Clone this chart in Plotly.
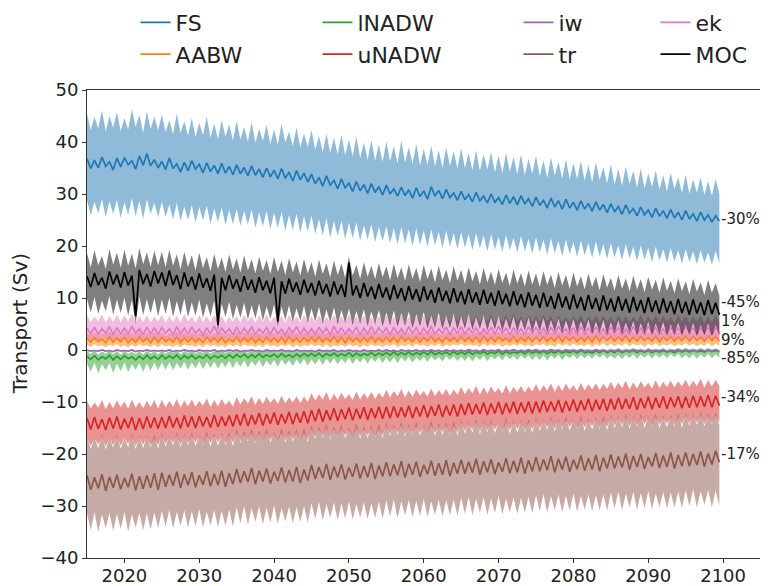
import plotly.graph_objects as go

# semi-annual time axis 2015.0 ... 2099.5
t = [2015.0 + 0.5 * i for i in range(170)]

fs = [36.8, 34.9, 36.5, 35.0, 37.1, 35.3, 36.2, 34.6, 36.9, 35.2, 37.0, 35.6, 36.4, 34.8, 37.3, 35.5, 37.8, 35.4, 36.6, 35.0,
      36.3, 34.7, 36.9, 34.9, 35.8, 34.2, 36.1, 34.5, 36.4, 34.8, 35.7, 34.1, 36.0, 34.3, 35.5, 33.9, 35.9, 34.0, 35.3, 33.7,
      35.6, 33.9, 35.1, 33.5, 35.4, 33.6, 34.8, 33.2, 35.0, 33.3, 34.6, 32.9, 34.9, 33.0, 34.2, 32.5, 34.5, 32.7, 34.0, 32.3,
      33.8, 32.0, 33.2, 31.5, 33.5, 31.7, 32.6, 31.0, 32.9, 31.2, 32.1, 30.5, 32.4, 30.6, 31.8, 30.1, 32.0, 30.3, 31.4, 29.8,
      31.7, 30.0, 31.0, 29.6, 31.3, 29.7, 30.8, 29.2, 31.2, 29.5, 30.6, 29.0, 31.4, 29.6, 30.7, 29.1, 30.9, 29.3, 30.2, 28.8,
      30.5, 28.9, 29.9, 28.5, 30.3, 28.7, 29.6, 28.3, 30.0, 28.4, 29.3, 28.0, 29.8, 28.2, 29.5, 27.9, 29.7, 28.1, 29.1, 27.6,
      29.4, 27.8, 28.8, 27.3, 29.2, 27.5, 28.7, 27.1, 29.0, 27.3, 28.4, 26.9, 28.7, 27.1, 28.2, 26.7, 28.5, 26.9, 28.0, 26.4,
      28.1, 26.6, 27.6, 26.1, 27.9, 26.3, 27.2, 25.8, 27.5, 26.0, 26.9, 25.5, 27.3, 25.7, 26.8, 25.3, 27.0, 25.4, 26.5, 25.0,
      26.8, 25.2, 26.2, 24.8, 26.5, 25.0, 26.0, 24.6, 25.8, 24.8]
fs_hi = [45.4, 42.3, 44.8, 42.6, 46.1, 42.0, 45.0, 42.8, 45.7, 42.1, 44.6, 42.4, 46.3, 42.9, 45.2, 41.8, 45.9, 42.5, 44.9, 42.2,
         45.3, 41.9, 44.2, 41.5, 45.5, 41.7, 44.0, 41.2, 44.6, 40.9, 43.7, 41.3, 44.9, 40.8, 43.5, 40.6, 44.2, 41.0, 43.4, 40.3,
         44.0, 40.5, 42.9, 40.1, 43.8, 39.8, 42.6, 40.2, 43.3, 39.6, 42.4, 39.5, 43.5, 39.9, 42.0, 39.2, 42.8, 38.9, 41.7, 39.0,
         42.3, 38.5, 41.2, 38.1, 41.6, 37.9, 40.8, 37.6, 41.4, 37.4, 40.5, 37.3, 41.0, 36.9, 39.9, 36.6, 40.4, 36.4, 39.5, 36.2,
         40.1, 36.3, 39.2, 35.9, 40.3, 36.0, 39.0, 35.7, 39.6, 35.5, 38.7, 35.6, 39.3, 35.3, 38.4, 35.0, 39.0, 35.4, 38.2, 34.9,
         38.8, 35.0, 37.9, 34.6, 38.4, 34.4, 37.6, 34.7, 38.1, 34.2, 37.4, 34.0, 37.9, 34.3, 37.1, 33.8, 37.6, 33.6, 36.8, 33.9,
         37.3, 33.4, 36.5, 33.1, 37.0, 33.5, 36.2, 33.0, 36.7, 32.8, 35.9, 32.9, 36.4, 32.6, 35.6, 32.3, 36.1, 32.7, 35.2, 32.0,
         35.7, 31.8, 34.8, 31.6, 35.3, 31.9, 34.4, 31.2, 34.9, 31.0, 34.0, 31.3, 34.5, 30.8, 33.6, 30.5, 34.1, 30.9, 33.2, 30.2,
         33.7, 30.0, 32.8, 30.3, 33.2, 29.8, 32.5, 29.6, 32.9, 30.0]
fs_lo = [28.8, 25.9, 28.5, 26.3, 29.1, 25.6, 28.6, 26.1, 28.9, 25.4, 28.4, 26.0, 29.2, 25.7, 28.7, 25.2, 29.0, 26.2, 28.3, 25.5,
         28.5, 25.6, 28.0, 25.1, 28.3, 24.8, 27.6, 25.0, 27.9, 24.5, 27.5, 24.9, 27.8, 24.3, 27.2, 24.6, 27.5, 24.0, 26.9, 24.2,
         27.2, 23.9, 26.8, 24.1, 27.0, 23.5, 26.5, 23.8, 26.8, 23.2, 26.4, 23.4, 26.6, 22.9, 26.0, 23.1, 26.2, 22.6, 25.7, 22.8,
         25.8, 22.3, 25.2, 22.0, 25.4, 21.6, 24.8, 21.9, 24.9, 21.3, 24.5, 21.5, 24.6, 21.0, 24.0, 21.2, 24.2, 20.7, 23.7, 20.9,
         23.8, 20.6, 23.4, 20.3, 23.7, 20.5, 23.2, 20.0, 23.4, 20.2, 23.0, 19.8, 23.2, 20.1, 22.8, 19.6, 23.0, 19.9, 22.5, 19.4,
         22.7, 19.7, 22.3, 19.2, 22.5, 19.5, 22.0, 19.0, 22.3, 19.3, 21.8, 18.9, 22.1, 19.2, 21.6, 18.7, 21.9, 19.0, 21.4, 18.5,
         21.7, 18.8, 21.2, 18.3, 21.5, 18.6, 21.0, 18.1, 21.3, 18.4, 20.8, 17.9, 21.1, 18.2, 20.6, 17.7, 20.9, 18.0, 20.4, 17.5,
         20.6, 17.8, 20.1, 17.3, 20.4, 17.6, 19.9, 17.1, 20.1, 17.4, 19.6, 16.9, 19.9, 17.2, 19.4, 16.8, 19.6, 17.0, 19.2, 16.6,
         19.4, 16.9, 19.0, 16.5, 19.2, 16.8, 18.8, 16.4, 19.0, 16.7]

aabw = [2.3, 1.5, 2.4, 1.6, 2.2, 1.4, 2.5, 1.5, 2.3, 1.6, 2.4, 1.4, 2.2, 1.5, 2.5, 1.6, 2.3, 1.4, 2.4, 1.5,
        2.4, 1.6, 2.2, 1.5, 2.5, 1.4, 2.3, 1.6, 2.4, 1.5, 2.2, 1.4, 2.5, 1.6, 2.3, 1.5, 2.4, 1.4, 2.2, 1.6,
        2.5, 1.5, 2.3, 1.6, 2.4, 1.4, 2.2, 1.5, 2.5, 1.6, 2.3, 1.5, 2.4, 1.4, 2.6, 1.6, 2.3, 1.5, 2.4, 1.6,
        2.4, 1.6, 2.5, 1.5, 2.3, 1.6, 2.6, 1.5, 2.4, 1.4, 2.5, 1.6, 2.3, 1.5, 2.4, 1.6, 2.6, 1.5, 2.3, 1.6,
        2.5, 1.6, 2.4, 1.5, 2.6, 1.7, 2.3, 1.6, 2.5, 1.5, 2.4, 1.7, 2.6, 1.6, 2.3, 1.5, 2.5, 1.7, 2.4, 1.6,
        2.6, 1.7, 2.4, 1.6, 2.5, 1.5, 2.7, 1.7, 2.4, 1.6, 2.5, 1.7, 2.3, 1.6, 2.6, 1.5, 2.4, 1.7, 2.5, 1.6,
        2.5, 1.7, 2.6, 1.6, 2.4, 1.7, 2.7, 1.6, 2.5, 1.8, 2.6, 1.6, 2.4, 1.7, 2.5, 1.6, 2.7, 1.7, 2.5, 1.8,
        2.6, 1.7, 2.5, 1.8, 2.7, 1.6, 2.5, 1.7, 2.6, 1.8, 2.4, 1.7, 2.7, 1.6, 2.5, 1.8, 2.6, 1.7, 2.5, 1.8,
        2.7, 1.7, 2.6, 1.8, 2.5, 1.7, 2.7, 1.8, 2.6, 1.7]
aabw_hi = [3.3, 2.8, 3.4, 2.7, 3.2, 2.9, 3.5, 2.8, 3.3, 2.7, 3.4, 2.9, 3.2, 2.8, 3.5, 2.7, 3.3, 2.9, 3.4, 2.8,
           3.4, 2.7, 3.2, 2.9, 3.5, 2.8, 3.3, 2.7, 3.4, 2.9, 3.2, 2.8, 3.5, 2.7, 3.3, 2.9, 3.4, 2.8, 3.2, 2.7,
           3.5, 2.8, 3.3, 2.9, 3.4, 2.7, 3.2, 2.8, 3.5, 2.9, 3.3, 2.7, 3.4, 2.8, 3.6, 2.9, 3.3, 2.8, 3.4, 2.9,
           3.4, 2.9, 3.5, 2.8, 3.3, 2.9, 3.6, 2.8, 3.4, 2.7, 3.5, 2.9, 3.3, 2.8, 3.4, 2.9, 3.6, 2.8, 3.3, 2.9,
           3.5, 2.9, 3.4, 2.8, 3.6, 3.0, 3.3, 2.9, 3.5, 2.8, 3.4, 3.0, 3.6, 2.9, 3.3, 2.8, 3.5, 3.0, 3.4, 2.9,
           3.6, 3.0, 3.4, 2.9, 3.5, 2.8, 3.7, 3.0, 3.4, 2.9, 3.5, 3.0, 3.3, 2.9, 3.6, 2.8, 3.4, 3.0, 3.5, 2.9,
           3.5, 3.0, 3.6, 2.9, 3.4, 3.0, 3.7, 2.9, 3.5, 3.1, 3.6, 2.9, 3.4, 3.0, 3.5, 2.9, 3.7, 3.0, 3.5, 3.1,
           3.6, 3.0, 3.5, 3.1, 3.7, 2.9, 3.5, 3.0, 3.6, 3.1, 3.4, 3.0, 3.7, 2.9, 3.5, 3.1, 3.6, 3.0, 3.5, 3.1,
           3.7, 3.0, 3.6, 3.1, 3.5, 3.0, 3.7, 3.1, 3.6, 3.0]
aabw_lo = [1.0, 0.6, 1.1, 0.7, 0.9, 0.5, 1.0, 0.7, 1.1, 0.6, 0.9, 0.5, 1.0, 0.6, 1.1, 0.7, 0.9, 0.6, 1.0, 0.5,
           1.1, 0.7, 0.9, 0.6, 1.0, 0.5, 1.1, 0.7, 0.9, 0.6, 1.0, 0.5, 1.1, 0.7, 1.0, 0.6, 0.9, 0.5, 1.1, 0.7,
           1.0, 0.6, 1.1, 0.7, 0.9, 0.6, 1.0, 0.5, 1.1, 0.7, 0.9, 0.6, 1.0, 0.7, 1.1, 0.5, 1.0, 0.6, 0.9, 0.7,
           1.1, 0.7, 1.0, 0.6, 1.1, 0.5, 0.9, 0.7, 1.0, 0.6, 1.1, 0.7, 0.9, 0.5, 1.0, 0.6, 1.1, 0.7, 1.0, 0.6,
           1.0, 0.7, 1.2, 0.6, 1.0, 0.7, 1.1, 0.6, 1.2, 0.8, 1.0, 0.6, 1.1, 0.7, 1.2, 0.6, 1.0, 0.7, 1.1, 0.8,
           1.2, 0.7, 1.1, 0.8, 1.0, 0.6, 1.2, 0.7, 1.1, 0.8, 1.2, 0.6, 1.0, 0.7, 1.1, 0.8, 1.2, 0.7, 1.0, 0.6,
           1.1, 0.8, 1.2, 0.7, 1.1, 0.6, 1.3, 0.8, 1.1, 0.7, 1.2, 0.8, 1.0, 0.7, 1.2, 0.6, 1.1, 0.8, 1.3, 0.7,
           1.2, 0.7, 1.1, 0.8, 1.3, 0.7, 1.2, 0.8, 1.1, 0.6, 1.2, 0.8, 1.3, 0.7, 1.1, 0.8, 1.2, 0.7, 1.1, 0.8,
           1.3, 0.8, 1.2, 0.7, 1.1, 0.8, 1.3, 0.7, 1.2, 0.8]

lnadw = [-1.2, -1.8, -1.1, -1.9, -1.3, -1.7, -1.0, -1.9, -1.2, -1.8, -1.1, -1.7, -1.3, -1.9, -1.2, -1.8, -1.0, -1.7, -1.2, -1.8,
         -1.0, -1.7, -1.1, -1.6, -0.9, -1.8, -1.1, -1.6, -1.0, -1.7, -1.2, -1.6, -0.9, -1.7, -1.1, -1.5, -1.0, -1.6, -0.9, -1.5,
         -0.9, -1.4, -0.8, -1.5, -0.9, -1.4, -0.7, -1.4, -0.9, -1.3, -0.8, -1.4, -0.7, -1.3, -0.9, -1.4, -0.8, -1.3, -0.7, -1.2,
         -0.7, -1.2, -0.6, -1.3, -0.7, -1.1, -0.6, -1.2, -0.7, -1.1, -0.5, -1.2, -0.6, -1.1, -0.7, -1.0, -0.5, -1.1, -0.6, -1.0,
         -0.5, -1.0, -0.4, -1.0, -0.5, -0.9, -0.4, -1.0, -0.5, -0.9, -0.4, -0.9, -0.3, -0.9, -0.5, -0.8, -0.4, -0.9, -0.3, -0.8,
         -0.4, -0.8, -0.3, -0.8, -0.4, -0.7, -0.3, -0.8, -0.4, -0.7, -0.2, -0.8, -0.3, -0.7, -0.4, -0.6, -0.3, -0.7, -0.2, -0.6,
         -0.3, -0.6, -0.2, -0.7, -0.3, -0.6, -0.2, -0.6, -0.3, -0.5, -0.2, -0.6, -0.1, -0.5, -0.3, -0.6, -0.2, -0.5, -0.1, -0.5,
         -0.2, -0.5, -0.1, -0.5, -0.2, -0.4, -0.1, -0.5, -0.2, -0.4, -0.1, -0.5, -0.2, -0.4, -0.1, -0.4, -0.2, -0.5, -0.1, -0.4,
         -0.1, -0.4, -0.1, -0.3, -0.2, -0.4, 0.0, -0.3, -0.1, -0.4]
lnadw_hi = [-0.2, -0.8, -0.1, -0.9, -0.3, -0.7, -0.1, -0.8, -0.2, -0.9, -0.1, -0.7, -0.3, -0.8, -0.2, -0.9, -0.1, -0.7, -0.2, -0.8,
            -0.1, -0.7, -0.2, -0.6, -0.1, -0.8, -0.2, -0.6, -0.1, -0.7, -0.2, -0.6, -0.1, -0.7, -0.2, -0.5, -0.1, -0.6, -0.1, -0.5,
            0.0, -0.5, -0.1, -0.6, 0.0, -0.5, -0.1, -0.5, 0.0, -0.4, -0.1, -0.5, 0.0, -0.4, -0.1, -0.5, 0.0, -0.4, 0.0, -0.4,
            0.1, -0.3, 0.0, -0.4, 0.1, -0.3, 0.0, -0.4, 0.1, -0.3, 0.0, -0.3, 0.1, -0.3, 0.0, -0.2, 0.1, -0.3, 0.0, -0.2,
            0.1, -0.2, 0.2, -0.2, 0.1, -0.1, 0.2, -0.2, 0.1, -0.1, 0.2, -0.1, 0.1, -0.2, 0.2, -0.1, 0.1, -0.1, 0.2, -0.1,
            0.2, -0.1, 0.3, 0.0, 0.2, -0.1, 0.3, -0.1, 0.2, 0.0, 0.3, -0.1, 0.2, 0.0, 0.3, -0.1, 0.2, 0.0, 0.3, 0.0,
            0.3, 0.0, 0.2, 0.0, 0.3, 0.1, 0.3, 0.0, 0.2, 0.1, 0.3, 0.0, 0.3, 0.1, 0.2, 0.0, 0.3, 0.1, 0.3, 0.0,
            0.3, 0.1, 0.4, 0.0, 0.3, 0.1, 0.4, 0.1, 0.3, 0.0, 0.4, 0.1, 0.3, 0.1, 0.4, 0.0, 0.3, 0.1, 0.4, 0.1,
            0.4, 0.1, 0.3, 0.1, 0.4, 0.0, 0.4, 0.1, 0.3, 0.1]
lnadw_lo = [-2.6, -4.2, -2.4, -4.5, -2.7, -3.9, -2.5, -4.4, -2.6, -4.1, -2.4, -4.3, -2.7, -3.8, -2.5, -4.2, -2.6, -4.0, -2.4, -3.9,
            -2.4, -3.8, -2.3, -3.9, -2.5, -3.6, -2.3, -3.8, -2.4, -3.5, -2.2, -3.7, -2.3, -3.4, -2.2, -3.6, -2.3, -3.3, -2.1, -3.5,
            -2.1, -3.2, -2.0, -3.4, -2.1, -3.1, -1.9, -3.3, -2.0, -3.0, -1.9, -3.2, -1.8, -2.9, -1.9, -3.1, -1.8, -2.8, -1.7, -3.0,
            -1.8, -2.8, -1.7, -2.9, -1.7, -2.6, -1.6, -2.8, -1.7, -2.5, -1.5, -2.7, -1.6, -2.4, -1.5, -2.6, -1.5, -2.3, -1.4, -2.5,
            -1.5, -2.4, -1.4, -2.5, -1.4, -2.2, -1.3, -2.4, -1.4, -2.1, -1.3, -2.3, -1.2, -2.0, -1.3, -2.2, -1.2, -1.9, -1.2, -2.1,
            -1.3, -2.1, -1.2, -2.2, -1.2, -1.9, -1.1, -2.1, -1.2, -1.8, -1.1, -2.0, -1.0, -1.8, -1.1, -1.9, -1.0, -1.7, -1.0, -1.9,
            -1.1, -1.9, -1.0, -2.0, -1.0, -1.7, -0.9, -1.9, -1.0, -1.6, -0.9, -1.8, -0.9, -1.6, -0.9, -1.7, -0.8, -1.5, -0.8, -1.7,
            -1.0, -1.7, -0.9, -1.8, -0.9, -1.6, -0.8, -1.7, -0.9, -1.5, -0.8, -1.7, -0.8, -1.5, -0.8, -1.6, -0.7, -1.4, -0.7, -1.6,
            -0.9, -1.6, -0.8, -1.7, -0.8, -1.5, -0.7, -1.6, -0.8, -1.5]

unadw = [-13.1, -15.3, -12.9, -15.2, -13.3, -15.4, -13.0, -15.1, -12.8, -15.3, -13.2, -15.0, -12.9, -15.4, -13.1, -15.2, -12.8, -15.0, -13.0, -15.1,
         -12.9, -15.0, -12.7, -14.9, -13.0, -15.1, -12.6, -14.8, -12.8, -15.0, -12.7, -14.7, -12.9, -14.9, -12.5, -14.8, -12.8, -14.6, -12.6, -14.7,
         -12.4, -14.5, -12.2, -14.6, -12.5, -14.3, -12.1, -14.5, -12.3, -14.2, -12.0, -14.4, -12.3, -14.1, -11.9, -14.3, -12.1, -14.0, -11.8, -14.1,
         -11.6, -13.7, -11.3, -13.8, -11.6, -13.5, -11.2, -13.6, -11.4, -13.3, -11.1, -13.5, -11.3, -13.2, -11.0, -13.4, -11.2, -13.1, -10.9, -13.2,
         -10.9, -13.1, -10.8, -13.0, -11.0, -12.9, -10.7, -13.1, -10.9, -12.8, -10.6, -13.0, -10.8, -12.7, -10.5, -12.9, -10.7, -12.6, -10.5, -12.8,
         -10.4, -12.5, -10.2, -12.4, -10.4, -12.3, -10.1, -12.5, -10.3, -12.2, -10.0, -12.4, -10.2, -12.1, -9.9, -12.3, -10.1, -12.0, -9.9, -12.2,
         -9.9, -12.0, -9.7, -11.9, -9.9, -11.8, -9.6, -12.0, -9.8, -11.7, -9.5, -11.9, -9.7, -11.6, -9.4, -11.8, -9.6, -11.5, -9.4, -11.7,
         -9.4, -11.5, -9.2, -11.4, -9.4, -11.3, -9.1, -11.5, -9.3, -11.2, -9.0, -11.4, -9.2, -11.1, -8.9, -11.3, -9.1, -11.0, -8.9, -11.2,
         -9.0, -11.1, -8.8, -11.0, -8.9, -10.9, -8.7, -11.0, -8.8, -10.7]
unadw_hi = [-9.8, -11.3, -10.1, -11.1, -9.6, -11.4, -10.0, -11.2, -9.7, -11.0, -9.9, -11.3, -9.5, -11.1, -10.0, -11.2, -9.8, -11.0, -9.6, -11.3,
            -9.6, -11.0, -9.8, -10.9, -9.4, -11.1, -9.7, -10.8, -9.5, -10.9, -9.8, -10.7, -9.3, -11.0, -9.6, -10.8, -9.4, -10.6, -9.7, -10.9,
            -9.1, -10.5, -9.3, -10.3, -8.9, -10.6, -9.2, -10.4, -9.0, -10.2, -9.3, -10.4, -8.8, -10.3, -9.1, -10.1, -8.9, -10.2, -9.0, -10.0,
            -8.3, -9.7, -8.5, -9.5, -8.1, -9.8, -8.4, -9.6, -8.2, -9.4, -8.5, -9.6, -8.0, -9.5, -8.3, -9.3, -8.1, -9.4, -8.2, -9.2,
            -7.7, -9.1, -7.9, -8.9, -7.5, -9.2, -7.8, -9.0, -7.6, -8.8, -7.9, -9.0, -7.4, -8.9, -7.7, -8.7, -7.5, -8.8, -7.6, -8.6,
            -7.1, -8.5, -7.3, -8.3, -6.9, -8.6, -7.2, -8.4, -7.0, -8.2, -7.3, -8.4, -6.8, -8.3, -7.1, -8.1, -6.9, -8.2, -7.0, -8.0,
            -6.6, -8.0, -6.8, -7.8, -6.4, -8.1, -6.7, -7.9, -6.5, -7.7, -6.8, -7.9, -6.3, -7.8, -6.6, -7.6, -6.4, -7.7, -6.5, -7.5,
            -6.1, -7.5, -6.3, -7.3, -5.9, -7.6, -6.2, -7.4, -6.0, -7.2, -6.3, -7.4, -5.8, -7.3, -6.1, -7.1, -5.9, -7.2, -6.0, -7.0,
            -5.7, -7.1, -5.9, -6.9, -5.6, -7.2, -5.8, -7.0, -5.7, -6.9]
unadw_lo = [-16.7, -18.5, -16.9, -18.2, -16.6, -18.6, -16.8, -18.3, -16.7, -18.4, -16.9, -18.1, -16.6, -18.5, -16.8, -18.2, -16.7, -18.4, -16.9, -18.3,
            -16.4, -18.1, -16.6, -17.9, -16.3, -18.2, -16.5, -18.0, -16.4, -17.8, -16.6, -18.1, -16.3, -17.9, -16.5, -17.7, -16.3, -18.0, -16.4, -17.8,
            -15.9, -17.6, -16.1, -17.4, -15.8, -17.7, -16.0, -17.5, -15.9, -17.3, -16.1, -17.6, -15.8, -17.4, -16.0, -17.2, -15.8, -17.5, -15.9, -17.3,
            -15.1, -16.8, -15.3, -16.6, -15.0, -16.9, -15.2, -16.7, -15.1, -16.5, -15.3, -16.8, -15.0, -16.6, -15.2, -16.4, -15.0, -16.7, -15.1, -16.5,
            -14.5, -16.2, -14.7, -16.0, -14.4, -16.3, -14.6, -16.1, -14.5, -15.9, -14.7, -16.2, -14.4, -16.0, -14.6, -15.8, -14.4, -16.1, -14.5, -15.9,
            -13.9, -15.6, -14.1, -15.4, -13.8, -15.7, -14.0, -15.5, -13.9, -15.3, -14.1, -15.6, -13.8, -15.4, -14.0, -15.2, -13.8, -15.5, -13.9, -15.3,
            -13.4, -15.1, -13.6, -14.9, -13.3, -15.2, -13.5, -15.0, -13.4, -14.8, -13.6, -15.1, -13.3, -14.9, -13.5, -14.7, -13.3, -15.0, -13.4, -14.8,
            -12.9, -14.6, -13.1, -14.4, -12.8, -14.7, -13.0, -14.5, -12.9, -14.3, -13.1, -14.6, -12.8, -14.4, -13.0, -14.2, -12.8, -14.5, -12.9, -14.3,
            -12.5, -14.2, -12.7, -14.0, -12.4, -14.3, -12.6, -14.1, -12.5, -14.0]

iw = [0.0, -0.2, -0.1, -0.2, 0.0, -0.2, -0.1, -0.3, 0.0, -0.2, -0.1, -0.2, 0.0, -0.3, -0.1, -0.2, 0.0, -0.2, -0.1, -0.2,
      -0.1, -0.2, 0.0, -0.3, -0.1, -0.2, 0.0, -0.2, -0.1, -0.3, 0.0, -0.2, -0.1, -0.2, 0.0, -0.3, -0.1, -0.2, 0.0, -0.2,
      0.0, -0.3, -0.1, -0.2, 0.0, -0.2, -0.1, -0.3, 0.0, -0.2, -0.1, -0.2, 0.0, -0.2, -0.1, -0.3, 0.0, -0.2, -0.1, -0.2,
      -0.1, -0.3, 0.0, -0.2, -0.1, -0.2, 0.0, -0.3, -0.1, -0.2, 0.0, -0.2, -0.1, -0.3, 0.0, -0.2, -0.1, -0.2, 0.0, -0.3,
      0.0, -0.2, -0.1, -0.3, 0.0, -0.2, -0.1, -0.2, 0.0, -0.3, -0.1, -0.2, 0.0, -0.2, -0.1, -0.3, 0.0, -0.2, -0.1, -0.2,
      -0.1, -0.2, 0.0, -0.2, -0.1, -0.3, 0.0, -0.2, -0.1, -0.2, 0.0, -0.3, -0.1, -0.2, 0.0, -0.2, -0.1, -0.3, 0.0, -0.2,
      0.0, -0.3, -0.1, -0.2, 0.0, -0.2, -0.1, -0.3, 0.0, -0.2, -0.1, -0.2, 0.0, -0.3, -0.1, -0.2, 0.0, -0.2, -0.1, -0.3,
      -0.1, -0.2, 0.0, -0.3, -0.1, -0.2, 0.0, -0.2, -0.1, -0.3, 0.0, -0.2, -0.1, -0.2, 0.0, -0.3, -0.1, -0.2, 0.0, -0.2,
      0.0, -0.2, -0.1, -0.3, 0.0, -0.2, -0.1, -0.2, 0.0, -0.3]

tr = [-24.1, -26.9, -24.5, -26.6, -23.9, -27.1, -24.4, -26.5, -24.0, -26.8, -24.6, -26.4, -23.8, -27.0, -24.3, -26.7, -24.1, -26.5, -23.7, -26.9,
      -23.6, -26.3, -24.0, -26.1, -23.4, -26.5, -23.9, -26.0, -23.5, -26.4, -24.1, -25.9, -23.3, -26.2, -23.8, -26.0, -23.2, -26.3, -23.7, -25.8,
      -22.9, -25.6, -23.3, -25.4, -22.7, -25.8, -23.2, -25.3, -22.8, -25.7, -23.4, -25.2, -22.6, -25.5, -23.1, -25.3, -22.5, -25.6, -23.0, -25.1,
      -22.1, -24.8, -22.5, -24.6, -21.9, -25.0, -22.4, -24.5, -22.0, -24.9, -22.6, -24.4, -21.8, -24.7, -22.3, -24.5, -21.7, -24.8, -22.2, -24.3,
      -21.6, -24.3, -22.0, -24.1, -21.4, -24.5, -21.9, -24.0, -21.5, -24.4, -22.1, -23.9, -21.3, -24.2, -21.8, -24.0, -21.2, -24.3, -21.7, -23.8,
      -21.1, -23.8, -21.5, -23.6, -20.9, -24.0, -21.4, -23.5, -21.0, -23.9, -21.6, -23.4, -20.8, -23.7, -21.3, -23.5, -20.7, -23.8, -21.2, -23.3,
      -20.6, -23.3, -21.0, -23.1, -20.4, -23.5, -20.9, -23.0, -20.5, -23.4, -21.1, -22.9, -20.3, -23.2, -20.8, -23.0, -20.2, -23.3, -20.7, -22.8,
      -20.1, -22.8, -20.5, -22.6, -19.9, -23.0, -20.4, -22.5, -20.0, -22.9, -20.6, -22.4, -19.8, -22.7, -20.3, -22.5, -19.7, -22.8, -20.2, -22.3,
      -19.7, -22.3, -20.0, -22.1, -19.5, -22.4, -19.9, -22.0, -19.4, -21.6]
tr_hi = [-16.4, -19.1, -16.8, -18.9, -16.2, -19.2, -16.7, -18.8, -16.3, -19.0, -16.9, -18.7, -16.1, -19.1, -16.6, -18.9, -16.4, -18.8, -16.2, -19.0,
         -15.9, -18.6, -16.3, -18.4, -15.7, -18.7, -16.2, -18.3, -15.8, -18.5, -16.4, -18.2, -15.6, -18.6, -16.1, -18.4, -15.9, -18.3, -15.7, -18.5,
         -15.2, -17.9, -15.6, -17.7, -15.0, -18.0, -15.5, -17.6, -15.1, -17.8, -15.7, -17.5, -14.9, -17.9, -15.4, -17.7, -15.2, -17.6, -15.0, -17.8,
         -14.4, -17.1, -14.8, -16.9, -14.2, -17.2, -14.7, -16.8, -14.3, -17.0, -14.9, -16.7, -14.1, -17.1, -14.6, -16.9, -14.4, -16.8, -14.2, -17.0,
         -13.9, -16.6, -14.3, -16.4, -13.7, -16.7, -14.2, -16.3, -13.8, -16.5, -14.4, -16.2, -13.6, -16.6, -14.1, -16.4, -13.9, -16.3, -13.7, -16.5,
         -13.4, -16.1, -13.8, -15.9, -13.2, -16.2, -13.7, -15.8, -13.3, -16.0, -13.9, -15.7, -13.1, -16.1, -13.6, -15.9, -13.4, -15.8, -13.2, -16.0,
         -12.9, -15.6, -13.3, -15.4, -12.7, -15.7, -13.2, -15.3, -12.8, -15.5, -13.4, -15.2, -12.6, -15.6, -13.1, -15.4, -12.9, -15.3, -12.7, -15.5,
         -12.4, -15.1, -12.8, -14.9, -12.2, -15.2, -12.7, -14.8, -12.3, -15.0, -12.9, -14.7, -12.1, -15.1, -12.6, -14.9, -12.4, -14.8, -12.2, -15.0,
         -12.0, -14.6, -12.3, -14.4, -11.8, -14.7, -12.2, -14.3, -11.9, -14.5]
tr_lo = [-31.4, -34.6, -31.2, -35.0, -31.6, -34.3, -31.3, -34.8, -31.5, -34.4, -31.1, -34.9, -31.6, -34.2, -31.3, -34.7, -31.4, -34.5, -31.2, -34.3,
         -30.9, -34.0, -30.7, -34.3, -31.1, -33.8, -30.8, -34.2, -31.0, -33.9, -30.6, -34.1, -31.1, -33.7, -30.8, -34.0, -30.9, -33.8, -30.7, -33.9,
         -30.2, -33.3, -30.0, -33.6, -30.4, -33.1, -30.1, -33.5, -30.3, -33.2, -29.9, -33.4, -30.4, -33.0, -30.1, -33.3, -30.2, -33.1, -30.0, -33.2,
         -29.4, -32.5, -29.2, -32.8, -29.6, -32.3, -29.3, -32.7, -29.5, -32.4, -29.1, -32.6, -29.6, -32.2, -29.3, -32.5, -29.4, -32.3, -29.2, -32.4,
         -28.9, -32.0, -28.7, -32.3, -29.1, -31.8, -28.8, -32.2, -29.0, -31.9, -28.6, -32.1, -29.1, -31.7, -28.8, -32.0, -28.9, -31.8, -28.7, -31.9,
         -28.4, -31.5, -28.2, -31.8, -28.6, -31.3, -28.3, -31.7, -28.5, -31.4, -28.1, -31.6, -28.6, -31.2, -28.3, -31.5, -28.4, -31.3, -28.2, -31.4,
         -27.9, -31.0, -27.7, -31.3, -28.1, -30.8, -27.8, -31.2, -28.0, -30.9, -27.6, -31.1, -28.1, -30.7, -27.8, -31.0, -27.9, -30.8, -27.7, -30.9,
         -27.4, -30.5, -27.2, -30.8, -27.6, -30.3, -27.3, -30.7, -27.5, -30.4, -27.1, -30.6, -27.6, -30.2, -27.3, -30.5, -27.4, -30.3, -27.2, -30.4,
         -27.0, -30.0, -26.8, -30.3, -27.1, -29.8, -26.9, -30.2, -27.0, -29.9]

ek = [4.2, 3.1, 4.4, 3.0, 4.1, 3.2, 4.5, 2.9, 4.3, 3.1, 4.2, 3.0, 4.6, 3.2, 4.1, 2.9, 4.4, 3.1, 4.3, 3.0,
      4.3, 3.2, 4.1, 2.9, 4.5, 3.1, 4.2, 3.0, 4.4, 3.2, 4.0, 2.9, 4.3, 3.1, 4.6, 3.0, 4.2, 3.2, 4.1, 2.9,
      4.4, 3.0, 4.2, 3.1, 4.5, 2.9, 4.1, 3.2, 4.3, 3.0, 4.4, 3.1, 4.0, 2.9, 4.3, 3.2, 4.5, 3.0, 4.2, 3.1,
      4.1, 3.0, 4.4, 3.2, 4.2, 2.9, 4.6, 3.1, 4.3, 3.0, 4.1, 3.2, 4.4, 2.9, 4.2, 3.1, 4.5, 3.0, 4.3, 3.2,
      4.2, 2.9, 4.4, 3.1, 4.1, 3.0, 4.5, 3.2, 4.3, 2.9, 4.2, 3.1, 4.6, 3.0, 4.1, 3.2, 4.4, 2.9, 4.3, 3.1,
      4.5, 3.0, 4.2, 3.2, 4.3, 2.9, 4.1, 3.1, 4.4, 3.0, 4.6, 3.2, 4.2, 2.9, 4.3, 3.1, 4.1, 3.0, 4.5, 3.2,
      4.3, 3.1, 4.2, 2.9, 4.4, 3.0, 4.6, 3.2, 4.1, 3.1, 4.3, 2.9, 4.5, 3.0, 4.2, 3.2, 4.4, 3.1, 4.1, 2.9,
      4.4, 3.2, 4.3, 3.0, 4.1, 2.9, 4.5, 3.1, 4.2, 3.0, 4.6, 3.2, 4.3, 2.9, 4.1, 3.1, 4.4, 3.0, 4.2, 3.2,
      4.5, 3.1, 4.3, 3.0, 4.2, 3.2, 4.4, 2.9, 4.3, 3.1]
ek_hi = [6.7, 5.3, 6.4, 5.5, 6.9, 5.2, 6.5, 5.4, 6.8, 5.3, 6.6, 5.5, 7.0, 5.2, 6.5, 5.4, 6.7, 5.3, 6.4, 5.5,
         6.8, 5.2, 6.5, 5.4, 6.6, 5.3, 6.9, 5.5, 6.4, 5.2, 6.7, 5.4, 6.5, 5.3, 6.8, 5.5, 6.6, 5.2, 6.4, 5.4,
         6.6, 5.3, 6.8, 5.5, 6.5, 5.2, 6.7, 5.4, 6.9, 5.3, 6.4, 5.5, 6.6, 5.2, 6.8, 5.4, 6.5, 5.3, 6.7, 5.5,
         6.5, 5.2, 6.7, 5.4, 6.4, 5.3, 6.8, 5.5, 6.6, 5.2, 6.9, 5.4, 6.5, 5.3, 6.7, 5.5, 6.4, 5.2, 6.6, 5.4,
         6.7, 5.3, 6.5, 5.5, 6.8, 5.2, 6.4, 5.4, 6.6, 5.3, 6.7, 5.5, 6.9, 5.2, 6.5, 5.4, 6.6, 5.3, 6.8, 5.5,
         6.4, 5.2, 6.6, 5.4, 6.7, 5.3, 6.5, 5.5, 6.8, 5.2, 6.4, 5.4, 6.6, 5.3, 6.9, 5.5, 6.5, 5.2, 6.7, 5.4,
         6.6, 5.3, 6.8, 5.5, 6.5, 5.2, 6.7, 5.4, 6.4, 5.3, 6.6, 5.5, 6.8, 5.2, 6.5, 5.4, 6.7, 5.3, 6.6, 5.5,
         6.5, 5.2, 6.7, 5.4, 6.6, 5.3, 6.4, 5.5, 6.8, 5.2, 6.5, 5.4, 6.7, 5.3, 6.6, 5.5, 6.4, 5.2, 6.8, 5.4,
         6.6, 5.3, 6.5, 5.5, 6.7, 5.2, 6.4, 5.4, 6.6, 5.3]
ek_lo = [2.5, 1.9, 2.4, 1.7, 2.6, 2.0, 2.3, 1.8, 2.5, 1.9, 2.4, 1.7, 2.6, 1.8, 2.5, 2.0, 2.3, 1.9, 2.4, 1.8,
         2.4, 1.8, 2.6, 1.9, 2.3, 1.7, 2.5, 2.0, 2.4, 1.8, 2.6, 1.9, 2.3, 1.7, 2.5, 1.8, 2.4, 2.0, 2.6, 1.9,
         2.5, 1.7, 2.3, 1.9, 2.6, 1.8, 2.4, 2.0, 2.5, 1.7, 2.3, 1.8, 2.6, 1.9, 2.4, 1.7, 2.5, 2.0, 2.3, 1.8,
         2.6, 1.9, 2.4, 1.8, 2.5, 1.7, 2.3, 1.9, 2.6, 2.0, 2.4, 1.8, 2.5, 1.7, 2.3, 1.9, 2.6, 1.8, 2.4, 2.0,
         2.3, 1.8, 2.5, 2.0, 2.4, 1.7, 2.6, 1.9, 2.3, 1.8, 2.5, 1.7, 2.4, 2.0, 2.6, 1.8, 2.3, 1.9, 2.5, 1.7,
         2.4, 2.0, 2.6, 1.8, 2.3, 1.9, 2.5, 1.7, 2.4, 1.8, 2.6, 2.0, 2.3, 1.7, 2.5, 1.9, 2.4, 1.8, 2.6, 1.7,
         2.5, 1.8, 2.3, 1.7, 2.6, 2.0, 2.4, 1.9, 2.5, 1.7, 2.3, 1.8, 2.6, 1.9, 2.4, 2.0, 2.5, 1.7, 2.3, 1.8,
         2.6, 1.7, 2.4, 1.9, 2.5, 1.8, 2.3, 2.0, 2.6, 1.7, 2.4, 1.9, 2.5, 1.8, 2.3, 1.7, 2.6, 2.0, 2.4, 1.9,
         2.5, 1.8, 2.3, 1.9, 2.6, 1.7, 2.4, 2.0, 2.5, 1.8]

moc = [14.2, 12.1, 14.8, 12.5, 13.9, 11.8, 15.1, 12.6, 14.5, 12.0, 15.0, 12.4, 14.3, 6.5, 15.4, 12.7, 14.6, 12.2, 15.2, 12.8,
       14.9, 12.3, 15.3, 12.5, 14.4, 11.7, 14.9, 12.2, 14.1, 11.6, 14.7, 12.0, 13.8, 11.4, 14.5, 4.8, 13.9, 11.5, 14.4, 11.8,
       13.6, 11.2, 14.2, 11.6, 13.5, 11.0, 14.0, 11.5, 13.3, 10.9, 13.9, 5.5, 13.2, 10.8, 13.7, 11.2, 13.0, 10.6, 13.5, 11.0,
       12.9, 10.5, 13.3, 10.8, 12.7, 10.3, 13.2, 10.7, 12.6, 10.2, 16.8, 10.5, 12.4, 10.0, 12.9, 10.3, 12.2, 9.8, 12.7, 10.1,
       12.0, 9.6, 12.5, 9.9, 11.9, 9.4, 12.3, 9.7, 11.7, 9.3, 12.2, 9.6, 11.6, 9.1, 12.0, 9.4, 11.4, 9.0, 11.9, 9.2,
       11.3, 8.8, 11.7, 9.1, 11.1, 8.7, 11.6, 8.9, 11.0, 8.5, 11.4, 8.8, 10.8, 8.4, 11.3, 8.6, 10.7, 8.2, 11.1, 8.5,
       10.6, 8.1, 11.0, 8.3, 10.4, 7.9, 10.9, 8.2, 10.3, 7.8, 10.7, 8.0, 10.2, 7.6, 10.6, 7.9, 10.0, 7.5, 10.5, 7.7,
       9.9, 7.4, 10.3, 7.6, 9.8, 7.2, 10.2, 7.5, 9.6, 7.1, 10.1, 7.3, 9.5, 7.0, 9.9, 7.2, 9.4, 6.9, 9.8, 7.1,
       9.3, 6.8, 9.7, 7.0, 9.2, 6.7, 9.6, 6.9, 9.1, 6.8]
moc_hi = [18.6, 15.9, 19.2, 16.3, 18.1, 15.6, 19.4, 16.4, 18.7, 15.8, 19.3, 16.2, 18.5, 15.7, 19.6, 16.5, 18.8, 16.0, 19.1, 16.3,
          18.9, 15.9, 19.3, 16.2, 18.4, 15.5, 18.9, 15.9, 18.2, 15.3, 18.7, 15.7, 17.9, 15.1, 18.5, 15.6, 17.8, 15.0, 18.4, 15.5,
          17.6, 14.9, 18.2, 15.3, 17.5, 14.7, 18.0, 15.2, 17.3, 14.6, 17.9, 15.0, 17.2, 14.4, 17.7, 14.9, 17.0, 14.3, 17.5, 14.7,
          16.9, 14.1, 17.4, 14.6, 16.7, 14.0, 17.2, 14.4, 16.6, 13.9, 18.0, 14.3, 16.4, 13.7, 16.9, 14.1, 16.2, 13.6, 16.8, 14.0,
          16.1, 13.4, 16.6, 13.8, 15.9, 13.3, 16.5, 13.7, 15.8, 13.1, 16.4, 13.6, 15.7, 13.0, 16.2, 13.4, 15.5, 12.9, 16.1, 13.3,
          15.4, 12.7, 15.9, 13.2, 15.2, 12.6, 15.8, 13.0, 15.1, 12.5, 15.6, 12.9, 14.9, 12.3, 15.5, 12.8, 14.8, 12.2, 15.3, 12.6,
          14.7, 12.1, 15.2, 12.5, 14.5, 11.9, 15.0, 12.4, 14.4, 11.8, 14.9, 12.2, 14.2, 11.7, 14.7, 12.1, 14.1, 11.5, 14.6, 12.0,
          13.9, 11.4, 14.4, 11.8, 13.8, 11.3, 14.3, 11.7, 13.6, 11.1, 14.1, 11.6, 13.5, 11.0, 14.0, 11.4, 13.3, 10.9, 13.8, 11.3,
          13.2, 10.7, 13.7, 11.2, 13.0, 10.6, 13.5, 11.0, 12.9, 10.5]
moc_lo = [9.8, 7.2, 10.2, 6.9, 9.5, 7.4, 10.4, 6.8, 9.7, 7.1, 10.1, 6.6, 9.6, 5.0, 10.3, 6.7, 9.8, 7.0, 10.0, 6.5,
          9.7, 6.9, 10.1, 6.4, 9.4, 6.8, 9.9, 6.3, 9.2, 6.6, 9.7, 6.2, 9.0, 6.5, 9.5, 3.6, 8.9, 6.3, 9.3, 5.9,
          8.7, 6.2, 9.1, 5.8, 8.6, 6.0, 9.0, 5.6, 8.4, 5.9, 8.8, 4.5, 8.3, 5.7, 8.6, 5.3, 8.1, 5.6, 8.5, 5.2,
          8.0, 5.4, 8.3, 5.0, 7.8, 5.3, 8.2, 4.9, 7.7, 5.1, 8.0, 4.8, 7.5, 5.0, 7.9, 4.6, 7.4, 4.9, 7.7, 4.5,
          7.2, 4.7, 7.6, 4.4, 7.1, 4.6, 7.4, 4.2, 6.9, 4.5, 7.3, 4.1, 6.8, 4.3, 7.1, 4.0, 6.7, 4.2, 7.0, 3.9,
          6.5, 4.1, 6.9, 3.8, 6.4, 4.0, 6.7, 3.7, 6.3, 3.9, 6.6, 3.6, 6.1, 3.8, 6.5, 3.5, 6.0, 3.7, 6.3, 3.4,
          5.9, 3.6, 6.2, 3.3, 5.8, 3.5, 6.1, 3.2, 5.7, 3.4, 6.0, 3.2, 5.6, 3.4, 5.9, 3.1, 5.5, 3.3, 5.8, 3.0,
          5.4, 3.2, 5.7, 3.0, 5.3, 3.2, 5.6, 2.9, 5.2, 3.1, 5.5, 2.9, 5.1, 3.1, 5.4, 2.8, 5.0, 3.0, 5.3, 2.8,
          4.9, 3.0, 5.2, 2.7, 4.8, 2.9, 5.1, 2.7, 4.8, 2.9]

# end-of-run change labels and where they sit
change_labels = ["-30%", "-45%", "1%", "9%", "-85%", "-34%", "-17%"]
change_label_y = [25.2, 9.2, 5.6, 1.9, -1.6, -9.0, -20.0]

series = [
    ("FS", fs, fs_lo, fs_hi, (31, 119, 180), "legend"),
    ("AABW", aabw, aabw_lo, aabw_hi, (255, 127, 14), "legend"),
    ("lNADW", lnadw, lnadw_lo, lnadw_hi, (44, 160, 44), "legend2"),
    ("uNADW", unadw, unadw_lo, unadw_hi, (214, 39, 40), "legend2"),
    ("iw", iw, None, None, (148, 103, 189), "legend3"),
    ("tr", tr, tr_lo, tr_hi, (140, 86, 75), "legend3"),
    ("ek", ek, ek_lo, ek_hi, (227, 119, 194), "legend4"),
    ("MOC", moc, moc_lo, moc_hi, (0, 0, 0), "legend4"),
]

fig = go.Figure()
for name, mean, lo, hi, (r, g, b), lg in series:
    for arr in (mean, lo, hi):
        if arr is not None:
            assert len(arr) == len(t), (name, len(arr))
    if lo is not None:
        fig.add_trace(go.Scatter(x=t, y=lo, mode="lines", line=dict(width=0),
                                 showlegend=False, hoverinfo="skip"))
        fig.add_trace(go.Scatter(x=t, y=hi, mode="lines", line=dict(width=0),
                                 fill="tonexty", fillcolor=f"rgba({r},{g},{b},0.5)",
                                 showlegend=False, hoverinfo="skip"))
    fig.add_trace(go.Scatter(x=t, y=mean, mode="lines", name=name,
                             line=dict(color=f"rgb({r},{g},{b})", width=1.7),
                             legend=lg, legendgroup=name))

for txt, yv in zip(change_labels, change_label_y):
    fig.add_annotation(x=2099.4, y=yv, text=txt, showarrow=False, xanchor="left",
                       yanchor="middle", font=dict(size=15, color="#222"))

# y-axis title (placed left of the tick labels)
fig.add_annotation(x=-0.098, y=0.5, xref="paper", yref="paper", text="Transport (Sv)",
                   textangle=-90, showarrow=False, xanchor="center", yanchor="middle",
                   font=dict(size=20, color="#222"))

axis_common = dict(showline=True, linecolor="#333", linewidth=1, ticks="outside",
                   ticklen=4, tickwidth=1, tickcolor="#333", showgrid=False,
                   zeroline=False, automargin=False, tickfont=dict(size=18, color="#222"))

# the page body adds an 8 px margin, so the figure is 760x578
leg_common = dict(orientation="v", xref="container", yref="container",
                  y=0.947, yanchor="middle", xanchor="left",
                  font=dict(size=22, color="#222"), bgcolor="rgba(0,0,0,0)",
                  tracegroupgap=0, itemwidth=30)

fig.update_layout(
    width=760, height=578,
    margin=dict(l=79, r=0, t=82, b=28, autoexpand=False),
    plot_bgcolor="white", paper_bgcolor="white",
    font=dict(family="DejaVu Sans", size=18, color="#222"),
    xaxis=dict(range=[2015, 2106], tickvals=[2020, 2030, 2040, 2050, 2060, 2070, 2080, 2090, 2100],
               mirror=True, ticklabelstandoff=-3, **axis_common),
    yaxis=dict(range=[-40, 50], dtick=10, **axis_common),
    legend=dict(x=0.1678, **leg_common),
    legend2=dict(x=0.4072, **leg_common),
    legend3=dict(x=0.6717, **leg_common),
    legend4=dict(x=0.852, **leg_common),
)

fig.write_html("out.html")
